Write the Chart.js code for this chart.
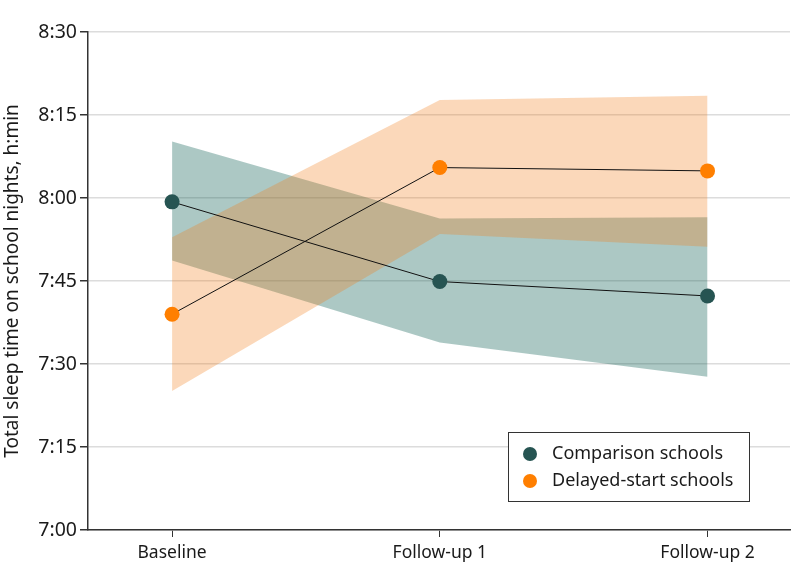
<!DOCTYPE html>
<html>
<head>
<meta charset="utf-8">
<script src="https://cdn.jsdelivr.net/npm/chart.js@4.4.1/dist/chart.umd.min.js"></script>
<style>
  html, body { margin: 0; padding: 0; background: #fff; }
  #wrap { width: 798px; height: 580px; }
</style>
</head>
<body>
<div id="wrap"><canvas id="myChart" width="798" height="580"></canvas></div>
<script>
// values in minutes of sleep (7:00 = 420)
const categories = ['Baseline', 'Follow-up 1', 'Follow-up 2'];
const comparisonMean = [479.3, 464.9, 462.3];
const comparisonUpper = [490.2, 476.3, 476.5];
const comparisonLower = [468.7, 453.9, 447.7];
const delayedMean = [459.0, 485.5, 484.9];
const delayedUpper = [472.9, 497.7, 498.5];
const delayedLower = [445.1, 473.5, 471.2];
const seriesLabels = ['Comparison schools', 'Delayed-start schools'];
const yTicks = [420, 435, 450, 465, 480, 495, 510];

const FONT = '"Noto Sans", sans-serif';
const tealDark = '#265452';
const orange = '#ff7f00';

function pts(arr) {
    return arr.map((v, i) => ({x: i, y: v}));
}

function fmt(v) {
    const h = Math.floor(v / 60);
    const m = Math.round(v - h * 60);
    return h + ':' + (m < 10 ? '0' + m : m);
}

const boxLegend = {
    id: 'boxLegend',
    afterDraw(chart) {
        const ctx = chart.ctx;
        const a = chart.chartArea;
        const w = 241, h = 69;
        const x0 = a.right - 41 - w, y0 = a.bottom - 29 - h;
        ctx.save();
        ctx.fillStyle = '#fff';
        ctx.fillRect(x0, y0, w, h);
        ctx.strokeStyle = '#333';
        ctx.lineWidth = 1;
        ctx.strokeRect(x0 + 0.5, y0 + 0.5, w, h);
        const cols = [tealDark, orange];
        ctx.font = '18px ' + FONT;
        ctx.textBaseline = 'middle';
        seriesLabels.forEach((lab, i) => {
            const cy = y0 + 22 + i * 27;
            ctx.beginPath();
            ctx.arc(x0 + 22, cy, 7, 0, Math.PI * 2);
            ctx.fillStyle = cols[i];
            ctx.fill();
            ctx.fillStyle = '#1a1a1a';
            ctx.fillText(lab, x0 + 44, cy);
        });
        ctx.restore();
    }
};

const ctx = document.getElementById('myChart').getContext('2d');
const myChart = new Chart(ctx, {
    type: 'line',
    data: {
        datasets: [
            {
                label: seriesLabels[0],
                data: pts(comparisonMean),
                borderColor: '#111',
                borderWidth: 1,
                pointRadius: 7.5,
                pointBackgroundColor: tealDark,
                pointBorderWidth: 0,
                fill: false,
                order: 1
            },
            {
                label: seriesLabels[1],
                data: pts(delayedMean),
                borderColor: '#111',
                borderWidth: 1,
                pointRadius: 7.5,
                pointBackgroundColor: orange,
                pointBorderWidth: 0,
                fill: false,
                order: 2
            },
            {
                label: 'delayed upper',
                data: pts(delayedUpper),
                borderWidth: 0,
                pointRadius: 0,
                fill: '+1',
                backgroundColor: 'rgba(242,125,25,0.3)',
                order: 3
            },
            {
                label: 'delayed lower',
                data: pts(delayedLower),
                borderWidth: 0,
                pointRadius: 0,
                fill: false,
                order: 3
            },
            {
                label: 'comparison upper',
                data: pts(comparisonUpper),
                borderWidth: 0,
                pointRadius: 0,
                fill: '+1',
                backgroundColor: 'rgba(18,98,86,0.35)',
                order: 4
            },
            {
                label: 'comparison lower',
                data: pts(comparisonLower),
                borderWidth: 0,
                pointRadius: 0,
                fill: false,
                order: 4
            }
        ]
    },
    options: {
        responsive: false,
        animation: false,
        layout: { padding: { top: 32, right: 8, left: 0, bottom: 0 } },
        plugins: {
            legend: { display: false },
            tooltip: { enabled: false }
        },
        scales: {
            x: {
                type: 'linear',
                min: -0.314,
                max: 2.308,
                afterBuildTicks: (scale) => {
                    scale.ticks = categories.map((c, i) => ({value: i}));
                },
                afterFit: (scale) => { scale.height = 50; },
                ticks: {
                    callback: (v) => categories[v],
                    font: { family: FONT, size: 17.5 },
                    color: '#1a1a1a',
                    padding: 6,
                    maxRotation: 0
                },
                grid: {
                    drawOnChartArea: false,
                    tickLength: 7,
                    tickColor: '#333',
                    lineWidth: 1
                },
                border: { color: '#333', width: 1.5 }
            },
            y: {
                min: 420,
                max: 510,
                afterBuildTicks: (scale) => {
                    scale.ticks = yTicks.map(v => ({value: v}));
                },
                afterFit: (scale) => { scale.width = 88; },
                ticks: {
                    callback: (v) => fmt(v),
                    font: { family: FONT, size: 19.5 },
                    color: '#1a1a1a',
                    padding: 3
                },
                grid: {
                    color: '#dcdcdc',
                    lineWidth: 1.5,
                    tickLength: 8,
                    tickColor: '#333'
                },
                border: { color: '#333', width: 1.5 },
                title: {
                    display: true,
                    text: 'Total sleep time on school nights, h:min',
                    font: { family: FONT, size: 19 },
                    color: '#1a1a1a',
                    padding: { top: 1, bottom: 0 }
                }
            }
        }
    },
    plugins: [boxLegend]
});
</script>
</body>
</html>
